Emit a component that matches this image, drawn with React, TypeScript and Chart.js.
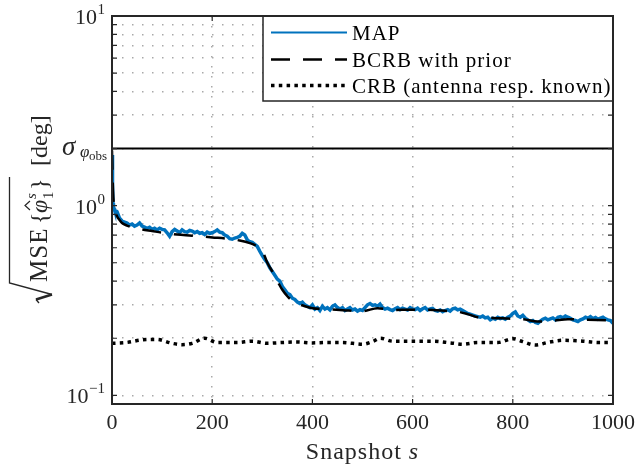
import React, { useEffect, useRef } from "react";
import { Chart, registerables } from "chart.js";
Chart.register(...registerables);

// ---- axes ----
const xMin = 0;
const xMax = 1000;
const yMin = 0.09;
const yMax = 10;
const xTickValues = [0, 200, 400, 600, 800, 1000];
const xTickLabels = ["0", "200", "400", "600", "800", "1000"];
const yTickValues = [0.1, 0.2, 0.3, 0.4, 0.5, 0.6, 0.7, 0.8, 0.9, 1, 2, 3, 4, 5, 6, 7, 8, 9, 10];
const yMajorValues = [0.1, 1, 10];
const yMajorExponents = ["\u22121", "0", "1"];
const sigmaObs = 2;

// ---- MAP (snapshot 0..4, then every 5 snapshots from 5 to 1000) ----
const mapHeadX = [0, 1, 2, 3, 4];
const mapHeadY = [1.85, 1.3, 1.03, 0.98, 0.97];
const mapBodyStart = 5;
const mapBodyStep = 5;
const mapBodyY = [
  0.95, 0.93, 0.86, 0.83, 0.82, 0.81, 0.79, 0.8, 0.78, 0.79,
  0.81, 0.78, 0.77, 0.76, 0.77, 0.75, 0.76, 0.745, 0.76, 0.75,
  0.745, 0.72, 0.69, 0.73, 0.75, 0.735, 0.72, 0.745, 0.73, 0.725,
  0.74, 0.735, 0.72, 0.73, 0.715, 0.72, 0.705, 0.725, 0.715, 0.72,
  0.73, 0.745, 0.725, 0.72, 0.7, 0.69, 0.67, 0.665, 0.675, 0.68,
  0.69, 0.715, 0.7, 0.66, 0.645, 0.64, 0.625, 0.61, 0.575, 0.545,
  0.52, 0.5, 0.47, 0.45, 0.43, 0.41, 0.4, 0.375, 0.36, 0.345,
  0.34, 0.325, 0.32, 0.31, 0.305, 0.31, 0.3, 0.295, 0.29, 0.3,
  0.285, 0.29, 0.28, 0.295, 0.285, 0.29, 0.282, 0.295, 0.3, 0.29,
  0.285, 0.29, 0.28, 0.285, 0.29, 0.282, 0.285, 0.278, 0.283, 0.28,
  0.29, 0.3, 0.305, 0.298, 0.3, 0.295, 0.303, 0.29, 0.285, 0.288,
  0.283, 0.28, 0.286, 0.29, 0.283, 0.288, 0.285, 0.282, 0.29, 0.285,
  0.283, 0.288, 0.28, 0.286, 0.29, 0.282, 0.285, 0.287, 0.28, 0.278,
  0.282, 0.276, 0.28, 0.283, 0.278, 0.286, 0.288, 0.282, 0.285, 0.28,
  0.275, 0.27, 0.268, 0.265, 0.262, 0.26, 0.258, 0.262, 0.256, 0.258,
  0.25, 0.255, 0.252, 0.258, 0.254, 0.256, 0.252, 0.258, 0.262, 0.27,
  0.275, 0.262, 0.258, 0.264, 0.255, 0.25, 0.245, 0.248, 0.242, 0.24,
  0.246, 0.252, 0.255, 0.25, 0.253, 0.256, 0.25, 0.258, 0.26, 0.256,
  0.262, 0.258, 0.255, 0.25, 0.248, 0.245, 0.25, 0.253, 0.258, 0.255,
  0.26, 0.254, 0.257, 0.252, 0.255, 0.258, 0.253, 0.25, 0.248, 0.24,
];

// ---- BCRB with prior ----
const bcrbX = [
  0, 1, 2, 4, 7, 10, 15, 20, 30, 45,
  60, 80, 100, 130, 160, 200, 230, 255, 275, 290,
  300, 310, 320, 330, 340, 350, 360, 370, 385, 400,
  430, 470, 500, 530, 560, 600, 640, 670, 690, 710,
  730, 760, 790, 820, 850, 880, 910, 950, 1000,
];
const bcrbY = [
  1.95, 1.5, 1.2, 1.0, 0.92, 0.88, 0.84, 0.81, 0.785, 0.765,
  0.75, 0.735, 0.72, 0.705, 0.695, 0.68, 0.67, 0.655, 0.635, 0.61,
  0.58, 0.5, 0.45, 0.4, 0.36, 0.333, 0.315, 0.305, 0.295, 0.288,
  0.285, 0.28, 0.278, 0.288, 0.282, 0.283, 0.282, 0.278, 0.276, 0.268,
  0.258, 0.256, 0.254, 0.252, 0.245, 0.247, 0.252, 0.25, 0.248,
];

// ---- CRB (antenna response known) ----
const crbX = [
  0, 30, 60, 90, 120, 140, 160, 185, 210, 250,
  280, 310, 340, 370, 400, 430, 460, 480, 500, 520,
  536, 560, 600, 640, 676, 700, 730, 770, 800, 820,
  845, 870, 900, 940, 970, 1000,
];
const crbY = [
  0.188, 0.19, 0.196, 0.197, 0.188, 0.185, 0.188, 0.2, 0.19, 0.19,
  0.193, 0.188, 0.19, 0.191, 0.189, 0.19, 0.19, 0.188, 0.186, 0.192,
  0.2, 0.193, 0.193, 0.193, 0.189, 0.186, 0.19, 0.19, 0.199, 0.192,
  0.184, 0.19, 0.195, 0.193, 0.19, 0.19,
];

const legendLabels = ["MAP", "BCRB with prior", "CRB (antenna resp. known)"];
const xAxisTitle = "Snapshot ";
const xAxisTitleVar = "s";

const BLUE = "#0072BD";
const INK = "#262626";
const GRID = "#a9a9a9";
const FONT = '"Liberation Serif", "Times New Roman", serif';
const DASH = [19, 13];
const DOT = [3.5, 4.3];

const overlay = {
  id: "overlay",
  afterDraw(chart: any) {
    const { ctx, chartArea: a, scales } = chart;
    const xs = scales.x;
    const ys = scales.y;
    ctx.save();

    // inner tick marks
    ctx.strokeStyle = INK;
    ctx.lineWidth = 1.2;
    ctx.setLineDash([]);
    ctx.beginPath();
    xs.ticks.forEach((t: any) => {
      if (t.value <= xMin || t.value >= xMax) return;
      const px = xs.getPixelForValue(t.value);
      ctx.moveTo(px, a.bottom);
      ctx.lineTo(px, a.bottom - 5);
      ctx.moveTo(px, a.top);
      ctx.lineTo(px, a.top + 5);
    });
    ys.ticks.forEach((t: any) => {
      const py = ys.getPixelForValue(t.value);
      if (py < a.top + 1 || py > a.bottom - 1) return;
      ctx.moveTo(a.left, py);
      ctx.lineTo(a.left + 5, py);
      ctx.moveTo(a.right, py);
      ctx.lineTo(a.right - 5, py);
    });
    ctx.stroke();

    // legend
    const lx0 = a.left + 151;
    const ly0 = a.top;
    const lx1 = a.right;
    const ly1 = a.top + 85;
    ctx.fillStyle = "#ffffff";
    ctx.fillRect(lx0, ly0, lx1 - lx0, ly1 - ly0);
    ctx.strokeStyle = INK;
    ctx.lineWidth = 1.5;
    ctx.strokeRect(lx0, ly0, lx1 - lx0, ly1 - ly0);
    const rows = [16.5, 43.5, 69.5];
    const styles = [
      { c: BLUE, w: 2, d: [] as number[] },
      { c: "#000", w: 2.5, d: DASH },
      { c: "#000", w: 3.5, d: DOT },
    ];
    rows.forEach((ry, i) => {
      const yy = ly0 + ry;
      ctx.strokeStyle = styles[i].c;
      ctx.lineWidth = styles[i].w;
      ctx.setLineDash(styles[i].d);
      ctx.beginPath();
      ctx.moveTo(lx0 + 8, yy);
      ctx.lineTo(lx0 + 84, yy);
      ctx.stroke();
      ctx.setLineDash([]);
      ctx.fillStyle = "#000";
      ctx.font = `21px ${FONT}`;
      ctx.textAlign = "left";
      ctx.textBaseline = "alphabetic";
      (ctx as any).letterSpacing = "1px";
      ctx.fillText(legendLabels[i], lx0 + 89, yy + 7);
      (ctx as any).letterSpacing = "0px";
    });

    // axes box
    ctx.strokeStyle = INK;
    ctx.lineWidth = 2;
    ctx.strokeRect(a.left, a.top, a.right - a.left, a.bottom - a.top);

    // x tick labels
    ctx.fillStyle = INK;
    ctx.font = `22px ${FONT}`;
    ctx.textAlign = "center";
    ctx.textBaseline = "alphabetic";
    xTickValues.forEach((v, i) => {
      ctx.fillText(xTickLabels[i], xs.getPixelForValue(v), a.bottom + 25);
    });

    // y tick labels 10^k
    yMajorValues.forEach((v, i) => {
      const py = ys.getPixelForValue(v);
      const right = a.left - 7;
      ctx.textAlign = "left";
      ctx.font = `15px ${FONT}`;
      const sw = ctx.measureText(yMajorExponents[i]).width;
      ctx.fillText(yMajorExponents[i], right - sw, py - 2);
      ctx.font = `22px ${FONT}`;
      ctx.textAlign = "right";
      ctx.fillText("10", right - sw - 0.5, py + 8);
    });

    // sigma label
    const sy = ys.getPixelForValue(sigmaObs);
    ctx.textAlign = "left";
    ctx.font = `italic 27px ${FONT}`;
    ctx.fillText("\u03c3", a.left - 50, sy + 6);
    ctx.font = `italic 17px ${FONT}`;
    ctx.fillText("\u03c6", a.left - 32, sy + 8);
    ctx.font = `13px ${FONT}`;
    ctx.fillText("obs", a.left - 23, sy + 11);

    // x axis title
    ctx.font = `24px ${FONT}`;
    (ctx as any).letterSpacing = "1px";
    const w1 = ctx.measureText(xAxisTitle).width;
    ctx.font = `italic 24px ${FONT}`;
    const w2 = ctx.measureText(xAxisTitleVar).width;
    const cx = (a.left + a.right) / 2;
    const startX = cx - (w1 + w2) / 2;
    ctx.font = `24px ${FONT}`;
    ctx.fillText(xAxisTitle, startX, a.bottom + 55);
    ctx.font = `italic 24px ${FONT}`;
    ctx.fillText(xAxisTitleVar, startX + w1, a.bottom + 55);
    (ctx as any).letterSpacing = "0px";

    // y axis title: sqrt(MSE{phi_hat_1^s}) [deg]
    ctx.save();
    ctx.translate(47, 303);
    ctx.rotate(-Math.PI / 2);
    ctx.strokeStyle = INK;
    ctx.fillStyle = INK;
    ctx.lineWidth = 1.3;
    ctx.beginPath();
    ctx.moveTo(0, -8);
    ctx.lineTo(3.5, -11);
    ctx.stroke();
    ctx.lineWidth = 2.6;
    ctx.beginPath();
    ctx.moveTo(3.5, -11);
    ctx.lineTo(8.5, 5);
    ctx.stroke();
    ctx.lineWidth = 1.3;
    ctx.beginPath();
    ctx.moveTo(8.5, 5);
    ctx.lineTo(20, -37.5);
    ctx.lineTo(126, -37.5);
    ctx.stroke();
    ctx.textAlign = "left";
    ctx.textBaseline = "alphabetic";
    ctx.font = `25px ${FONT}`;
    (ctx as any).letterSpacing = "1px";
    ctx.fillText("MSE", 21, 0);
    (ctx as any).letterSpacing = "0px";
    ctx.font = `24px ${FONT}`;
    ctx.fillText("{", 79, 0);
    ctx.font = `italic 24px ${FONT}`;
    ctx.fillText("\u03c6", 90, 0);
    ctx.lineWidth = 1.2;
    ctx.beginPath();
    ctx.moveTo(93, -17);
    ctx.lineTo(97.5, -22);
    ctx.lineTo(102, -17);
    ctx.stroke();
    ctx.font = `italic 15px ${FONT}`;
    ctx.fillText("s", 104, -11);
    ctx.font = `15px ${FONT}`;
    ctx.fillText("1", 104, 6);
    ctx.font = `24px ${FONT}`;
    ctx.fillText("}", 113, 0);
    ctx.fillText("[deg]", 137, 0);
    ctx.restore();

    ctx.restore();
  },
};

export default function App() {
  const ref = useRef<HTMLCanvasElement | null>(null);
  useEffect(() => {
    if (!ref.current) return;
    const mapData = [
      ...mapHeadX.map((x, i) => ({ x, y: mapHeadY[i] })),
      ...mapBodyY.map((y, i) => ({ x: mapBodyStart + i * mapBodyStep, y })),
    ];
    const chart = new Chart(ref.current, {
      type: "line",
      data: {
        datasets: [
          {
            label: "sigma",
            data: [
              { x: xMin, y: sigmaObs },
              { x: xMax, y: sigmaObs },
            ],
            borderColor: "#000",
            borderWidth: 2,
            pointRadius: 0,
            order: 0,
          },
          {
            label: legendLabels[1],
            data: bcrbX.map((x, i) => ({ x, y: bcrbY[i] })),
            borderColor: "#000",
            borderWidth: 2.5,
            borderDash: DASH,
            pointRadius: 0,
            cubicInterpolationMode: "monotone",
            order: 1,
          },
          {
            label: legendLabels[2],
            data: crbX.map((x, i) => ({ x, y: crbY[i] })),
            borderColor: "#000",
            borderWidth: 3.5,
            borderDash: DOT,
            pointRadius: 0,
            cubicInterpolationMode: "monotone",
            order: 2,
          },
          {
            label: legendLabels[0],
            data: mapData,
            borderColor: BLUE,
            borderWidth: 3.5,
            pointRadius: 0,
            tension: 0,
            order: 3,
          },
        ],
      },
      options: {
        animation: false,
        responsive: false,
        maintainAspectRatio: false,
        devicePixelRatio: 1,
        layout: { padding: { left: 112, right: 23, top: 16, bottom: 66 } },
        plugins: { legend: { display: false }, tooltip: { enabled: false } },
        scales: {
          x: {
            type: "linear",
            min: xMin,
            max: xMax,
            afterBuildTicks: (scale: any) => {
              scale.ticks = xTickValues.map((v) => ({ value: v }));
            },
            ticks: { display: false, autoSkip: false },
            grid: { color: GRID, lineWidth: 1.5, drawTicks: false, tickLength: 0 },
            border: { display: false, dash: [1.5, 8.5] },
          },
          y: {
            type: "logarithmic",
            min: yMin,
            max: yMax,
            afterBuildTicks: (scale: any) => {
              scale.ticks = yTickValues.map((v) => ({ value: v }));
            },
            ticks: { display: false, autoSkip: false },
            grid: { color: GRID, lineWidth: 1.5, drawTicks: false, tickLength: 0 },
            border: { display: false, dash: [1.5, 8.5] },
          },
        },
      } as any,
      plugins: [overlay],
    });
    return () => chart.destroy();
  }, []);
  return (
    <div style={{ position: "fixed", left: 0, top: 0, width: 636, height: 470, background: "#fff" }}>
      <canvas ref={ref} width={636} height={470} style={{ display: "block", width: 636, height: 470 }} />
    </div>
  );
}
